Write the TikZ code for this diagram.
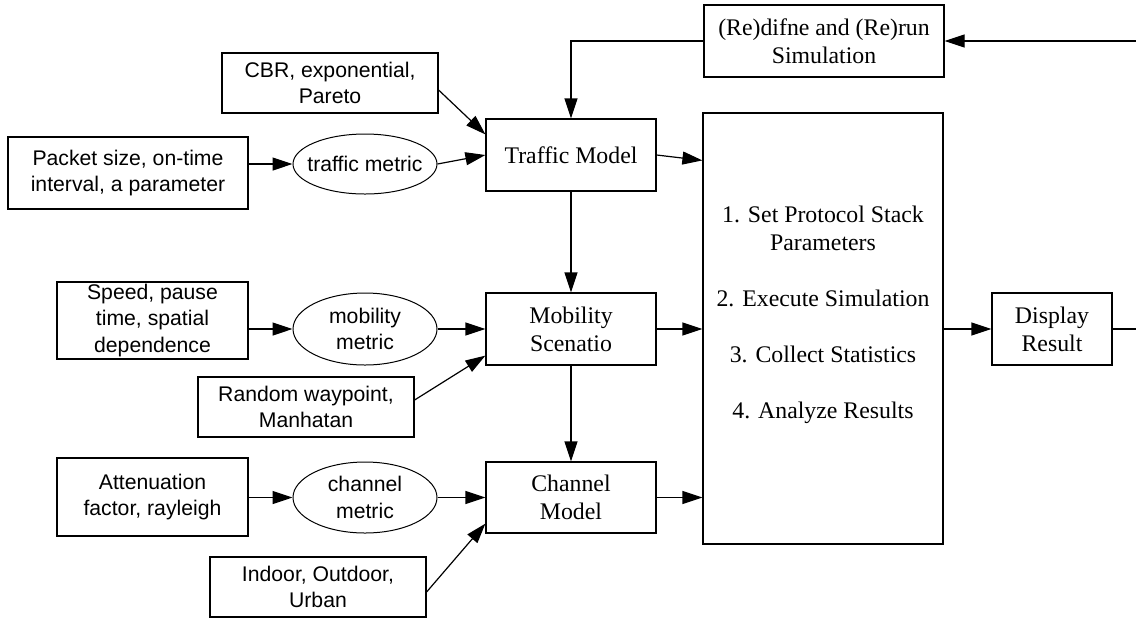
\documentclass[tikz,border=0pt]{standalone}
\usepackage{fontspec}
\setmainfont{Liberation Serif}
\setsansfont{Liberation Sans}
\usetikzlibrary{arrows.meta,shapes.geometric,calc}

\begin{document}
\begin{tikzpicture}[x=0.5pt,y=-0.5pt,
  box/.style={draw,line width=0.6pt,inner sep=0pt,align=center,
    minimum width=85pt,minimum height=36pt,font=\fontsize{11.9}{14}\selectfont},
  parbox/.style={draw,line width=0.6pt,inner sep=0pt,align=center,
    font=\sffamily\fontsize{10.6}{13.2}\selectfont},
  metric/.style={ellipse,draw,line width=0.5pt,inner sep=0pt,
    minimum width=72pt,minimum height=36pt,align=center,
    font=\sffamily\fontsize{10.6}{13.2}\selectfont},
  link/.style={line width=0.6pt,-{Triangle[length=10pt,width=6.5pt]}},
  plain/.style={line width=0.6pt}]
\useasboundingbox (0,0) rectangle (1136,618);

% simulation core
\node[box,minimum width=120pt,minimum height=36pt] (redo) at (824,41) {(Re)difne and (Re)run\\Simulation};
\node[draw,line width=0.6pt,minimum width=120pt,minimum height=215.5pt] (stack) at (823,328.5) {};
\node[align=center,font=\fontsize{11.9}{14}\selectfont] (steps) at (823,315)
  {1. Set Protocol Stack\\Parameters\\[14pt]2. Execute Simulation\\[14pt]3. Collect Statistics\\[14pt]4. Analyze Results};
\node[box,minimum width=60pt,minimum height=36pt] (display) at (1052,329) {Display\\Result};

% model column
\node[box] (traffic) at (571,155) {Traffic Model};
\node[box] (mobility) at (571,329) {Mobility\\Scenatio};
\node[box,minimum height=35.5pt] (channel) at (571,497.5) {Channel\\Model};

% traffic inputs
\node[parbox,minimum width=108pt,minimum height=30pt] (cbr) at (330,83) {CBR, exponential,\\Pareto};
\node[parbox,minimum width=120pt,minimum height=36pt] (packet) at (128,173) {Packet size, on-time\\interval, a parameter};
\node[metric,minimum height=30pt,inner xsep=-3.4pt] (tmet) at (365,164) {traffic metric};

% mobility inputs
\node[parbox,minimum width=95.5pt,minimum height=38.5pt] (speed) at (152.5,320.5) {Speed, pause\\time, spatial\\dependence};
\node[metric] (mmet) at (365,329) {mobility\\metric};
\node[parbox,minimum width=108pt,minimum height=30pt] (random) at (306,407) {Random waypoint,\\Manhatan};

% channel inputs
\node[parbox,minimum width=95.5pt,minimum height=39pt] (atten) at (152.5,497) {Attenuation\\factor, rayleigh};
\node[metric,minimum height=35.5pt] (cmet) at (365,497.5) {channel\\metric};
\node[parbox,minimum width=108pt,minimum height=30pt] (indoor) at (318,587) {Indoor, Outdoor,\\Urban};

% free ends of the feedback loop
\coordinate (fbin) at (1136,41);
\coordinate (fbout) at (1136,329);

% connectors
\draw[link] (fbin) -- (redo.east);
\draw[link] (redo.west) -- (redo.west -| traffic.north) -- (traffic.north);

\draw[link] ($(cbr.east)+(0,7)$) -- ($(traffic.north west)+(0,16)$);
\draw[link] (packet.east |- tmet.west) -- (tmet.west);
\draw[link] (tmet.east) -- (traffic.west);
\draw[link] (traffic.east) -- ($(stack.north west)+(0,48)$);
\draw[link] (traffic.south) -- (mobility.north);

\draw[link] (speed.east |- mmet.west) -- (mmet.west);
\draw[link] (mmet.east) -- (mobility.west);
\draw[link] ($(random.east)+(0,-7)$) -- ($(mobility.south west)+(0,-10)$);
\draw[link] (mobility.east) -- (mobility.east -| stack.west);
\draw[link] (mobility.south) -- (channel.north);

\draw[link] (atten.east |- cmet.west) -- (cmet.west);
\draw[link] (cmet.east) -- (channel.west);
\draw[link] ($(indoor.east)+(0,5)$) -- ($(channel.south west)+(0,-10)$);
\draw[link] (channel.east) -- (channel.east -| stack.west);

\draw[link] (stack.east |- display.west) -- (display.west);
\draw[plain] (display.east) -- (fbout);
\end{tikzpicture}
\end{document}
